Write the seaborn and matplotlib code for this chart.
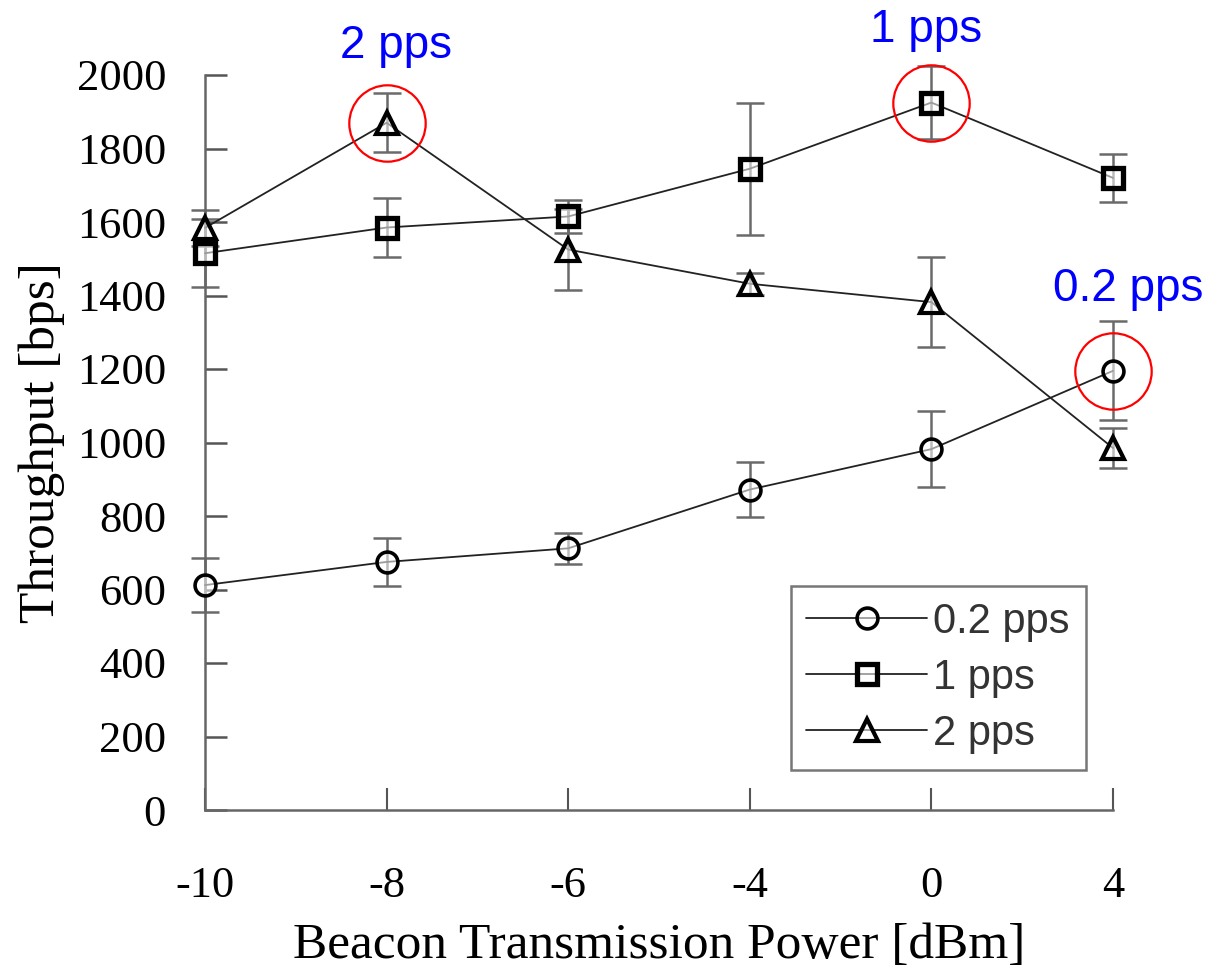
import numpy as np
import pandas as pd
import matplotlib
matplotlib.use("Agg")
import matplotlib.pyplot as plt
import seaborn as sns

# Beacon transmission power levels (dBm), plotted as evenly spaced categories
power_levels = ["-10", "-8", "-6", "-4", "0", "4"]

# Mean throughput [bps] and error half-widths per packet rate
thr_02 = [612, 675, 712, 872, 982, 1195]
err_02 = [73, 65, 43, 74, 104, 135]
thr_1 = [1515, 1585, 1615, 1745, 1925, 1720]
err_1 = [92, 80, 45, 180, 100, 65]
thr_2 = [1584, 1870, 1525, 1432, 1382, 985]
err_2 = [50, 80, 110, 30, 122, 55]

series_names = ["0.2 pps", "1 pps", "2 pps"]
y_ticks = [0, 200, 400, 600, 800, 1000, 1200, 1400, 1600, 1800, 2000]

# Best power level for each rate, circled and labelled
highlight = {"2 pps": "-8", "1 pps": "0", "0.2 pps": "4"}

pos = np.arange(len(power_levels))
frames = []
for name, vals, errs in zip(series_names, [thr_02, thr_1, thr_2], [err_02, err_1, err_2]):
    frames.append(pd.DataFrame({"pos": pos, "power": power_levels,
                                "throughput": vals, "err": errs, "rate": name}))
df = pd.concat(frames, ignore_index=True)

sns.set_theme(style="white")
plt.rcParams["font.family"] = ["Liberation Serif", "DejaVu Serif"]
plt.rcParams["text.color"] = "black"
plt.rcParams["axes.labelcolor"] = "black"
plt.rcParams["xtick.color"] = "black"
plt.rcParams["ytick.color"] = "black"

fig = plt.figure(figsize=(12.24, 9.68), dpi=100)
ax = fig.add_axes([205 / 1224, 1 - 810 / 968, (1113 - 205) / 1224, (810 - 75) / 968])

styles = {
    "0.2 pps": dict(marker="o", ms=15, mew=2.6),
    "1 pps": dict(marker="s", ms=15, mew=3.8),
    "2 pps": dict(marker="^", ms=16, mew=3.0),
}

for name in series_names:
    sub = df[df["rate"] == name]
    ax.errorbar(sub["pos"], sub["throughput"], yerr=sub["err"], fmt="none",
                ecolor="#6a6a6a", elinewidth=1.8, capsize=10, capthick=1.8,
                zorder=2, clip_on=False)

for name in series_names:
    sub = df[df["rate"] == name]
    st = styles[name]
    sns.lineplot(data=sub, x="pos", y="throughput", ax=ax, color="#222222",
                 linewidth=1.3, marker=st["marker"], markersize=st["ms"],
                 markeredgewidth=st["mew"], markeredgecolor="black",
                 markerfacecolor=(1, 1, 1, 0.55), label=name, zorder=3,
                 clip_on=False, estimator=None, errorbar=None)

# Red circles and blue labels on the peak of each rate
offsets = {"2 pps": (7, 55), "1 pps": (-4, 52), "0.2 pps": (11, 59)}
for name in series_names:
    sub = df[(df["rate"] == name) & (df["power"] == highlight[name])]
    x0 = float(sub["pos"].iloc[0])
    y0 = float(sub["throughput"].iloc[0])
    ax.plot([x0], [y0], marker="o", ms=55, mfc="none", mec="red", mew=1.6,
            linestyle="none", zorder=5, clip_on=False)
    ax.annotate(name, xy=(x0, y0), xytext=offsets[name], textcoords="offset points",
                ha="center", va="center", color="blue", fontsize=33,
                family=["Liberation Sans", "DejaVu Sans"], annotation_clip=False)

ax.set_xlim(0, len(power_levels) - 1)
ax.set_ylim(0, 2000)
ax.set_xticks(pos)
ax.set_xticklabels(power_levels)
ax.set_yticks(y_ticks)
ax.set_yticklabels([str(v) for v in y_ticks])

for side in ["top", "right"]:
    ax.spines[side].set_visible(False)
for side in ["left", "bottom"]:
    ax.spines[side].set_color("#666666")
    ax.spines[side].set_linewidth(1.8)

ax.tick_params(axis="y", direction="in", length=16, width=1.8, color="#555555",
               labelsize=32, pad=28, left=True, labelcolor="black")
ax.tick_params(axis="x", direction="in", length=16, width=1.5, color="#555555",
               labelsize=32, pad=40, bottom=True, labelcolor="black")

ax.set_xlabel("Beacon Transmission Power [dBm]", fontsize=37, labelpad=12)
ax.set_ylabel("Throughput [bps]", fontsize=37, labelpad=8)

leg = ax.legend(loc="lower right", bbox_to_anchor=(0.97, 0.055), frameon=True,
                fancybox=False, edgecolor="#777777", framealpha=1,
                prop={"family": ["Liberation Sans", "DejaVu Sans"], "size": 30},
                handlelength=2.9, handletextpad=0.15, labelspacing=0.38,
                borderpad=0.38, borderaxespad=0)
leg.get_frame().set_linewidth(1.8)
for text in leg.get_texts():
    text.set_color("#333333")

fig.savefig("out.png", dpi=100, facecolor="white")
